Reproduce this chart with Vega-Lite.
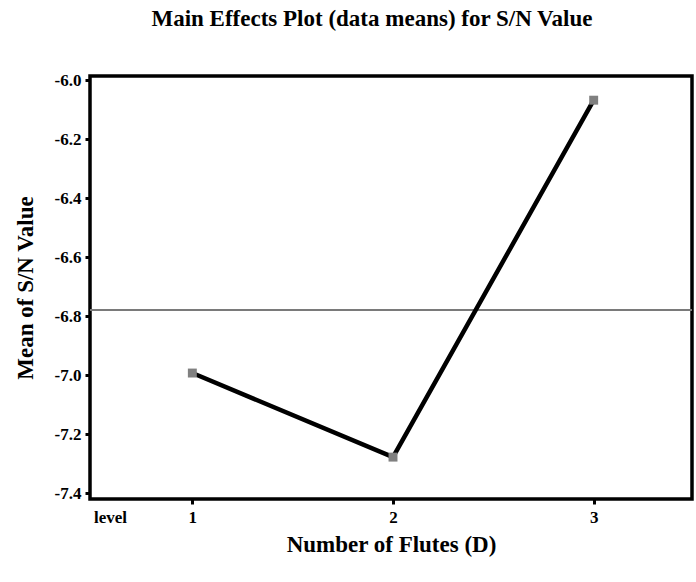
{
  "$schema": "https://vega.github.io/schema/vega-lite/v6.json",
  "width": 602,
  "height": 423,
  "autosize": {"type": "none"},
  "padding": {"left": 90, "top": 76, "right": 4, "bottom": 83},
  "background": "white",
  "title": {
    "text": "Main Effects Plot (data means) for S/N Value",
    "font": "Liberation Serif",
    "fontSize": 23,
    "fontWeight": "bold",
    "color": "black",
    "anchor": "middle",
    "dx": -19,
    "offset": 40
  },
  "config": {
    "view": {"stroke": "black", "strokeWidth": 3.5},
    "axis": {
      "grid": false,
      "domain": false,
      "tickColor": "black",
      "tickWidth": 3,
      "tickSize": 5,
      "labelFont": "Liberation Serif",
      "labelFontWeight": "bold",
      "labelFontSize": 17,
      "labelColor": "black",
      "titleFont": "Liberation Serif",
      "titleFontWeight": "bold",
      "titleFontSize": 23,
      "titleColor": "black"
    }
  },
  "data": {
    "values": [
      {"level": 1, "mean": -6.993},
      {"level": 2, "mean": -7.278},
      {"level": 3, "mean": -6.068}
    ]
  },
  "layer": [
    {
      "mark": {"type": "rule", "color": "#7a7a7a", "strokeWidth": 2},
      "encoding": {
        "y": {"aggregate": "mean", "field": "mean", "type": "quantitative"}
      }
    },
    {
      "mark": {"type": "line", "color": "black", "strokeWidth": 4.5},
      "encoding": {
        "x": {
          "field": "level",
          "type": "quantitative",
          "scale": {"domain": [0.49, 3.49], "nice": false, "zero": false},
          "axis": {
            "values": [0.59, 1, 2, 3],
            "labelExpr": "datum.value < 1 ? 'level' : format(datum.value, 'd')",
            "tickOpacity": {"condition": {"test": "datum.value < 1", "value": 0}, "value": 1},
            "labelPadding": 5,
            "title": "Number of Flutes (D)",
            "titlePadding": 8
          }
        },
        "y": {
          "field": "mean",
          "type": "quantitative",
          "scale": {"domain": [-7.42, -5.986], "nice": false, "zero": false},
          "axis": {
            "values": [-7.4, -7.2, -7.0, -6.8, -6.6, -6.4, -6.2, -6.0],
            "labelExpr": "'-' + format(abs(datum.value), '.1f')",
            "labelPadding": 4,
            "title": "Mean of S/N Value",
            "titlePadding": 17
          }
        }
      }
    },
    {
      "mark": {"type": "square", "filled": true, "color": "#808080", "size": 80, "opacity": 1},
      "encoding": {
        "x": {"field": "level", "type": "quantitative"},
        "y": {"field": "mean", "type": "quantitative"}
      }
    }
  ]
}
